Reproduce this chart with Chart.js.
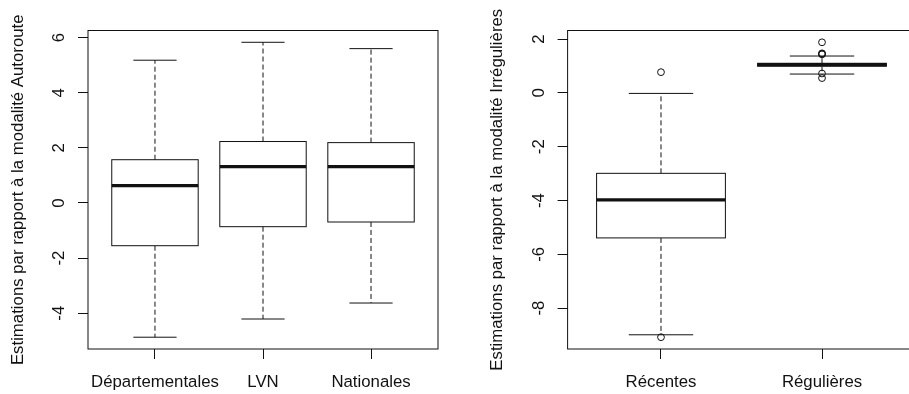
<!DOCTYPE html>
<html>
<head>
<meta charset="utf-8">
<script src="https://cdn.jsdelivr.net/npm/chart.js@4"></script>
<style>
  html, body { margin: 0; padding: 0; background: #fff; overflow: hidden; width: 909px; height: 394px; }
  canvas { position: absolute; top: 0; }
  #graficoAutoroute { left: 0; }
  #graficoIrregulieres { left: 455px; }
</style>
</head>
<body>
<canvas id="graficoAutoroute" width="455" height="394"></canvas>
<canvas id="graficoIrregulieres" width="470" height="394"></canvas>
<script>
// Panel izquierdo: estimaciones respecto a la modalidad Autoroute
const categoriasAutoroute = ['Départementales', 'LVN', 'Nationales'];
const bigoteInfAutoroute = [-4.87, -4.21, -3.63];
const q1Autoroute = [-1.55, -0.86, -0.69];
const medianaAutoroute = [0.63, 1.32, 1.32];
const q3Autoroute = [1.57, 2.23, 2.19];
const bigoteSupAutoroute = [5.18, 5.83, 5.60];
const atipicosAutoroute = [[], [], []];
const ticksAutoroute = [-4, -2, 0, 2, 4, 6];

// Panel derecho: estimaciones respecto a la modalidad Irrégulières
const categoriasIrregulieres = ['Récentes', 'Régulières'];
const bigoteInfIrregulieres = [-8.99, 0.70];
const q1Irregulieres = [-5.39, 0.99];
const medianaIrregulieres = [-3.98, 1.05];
const q3Irregulieres = [-2.99, 1.10];
const bigoteSupIrregulieres = [-0.02, 1.37];
const atipicosIrregulieres = [[0.77, -9.08], [1.88, 1.47, 1.45, 1.43, 0.72, 0.55]];
const ticksIrregulieres = [-8, -6, -4, -2, 0, 2];

const fuente = { family: '"Liberation Sans", Arial, sans-serif', size: 16.8 };
const colorTinta = '#111';

function crearBoxplot(canvas, categorias, bigoteInf, q1, mediana, q3, bigoteSup, atipicos, ticksY, tituloY, medidas) {

  // rango como en R: datos extendidos un 4%
  const todos = bigoteInf.concat(bigoteSup, atipicos.flat());
  const minY = Math.min(...todos), maxY = Math.max(...todos);
  const extra = (maxY - minY) * 0.04;
  const n = categorias.length;
  const extraX = n * 0.04;

  const puntosAtipicos = atipicos.flatMap((vals, i) => vals.map(v => ({ x: i + 1, y: v })));

  const pluginCajas = {
    id: 'cajasBoxplot',
    beforeDatasetsDraw: (chart) => {
      const { ctx, scales: { x, y } } = chart;
      ctx.save();
      ctx.strokeStyle = colorTinta;
      for (let i = 0; i < n; i++) {
        const xc = x.getPixelForValue(i + 1);
        const xl = x.getPixelForValue(i + 1 - 0.4);
        const xr = x.getPixelForValue(i + 1 + 0.4);
        const cl = x.getPixelForValue(i + 1 - 0.2);
        const cr = x.getPixelForValue(i + 1 + 0.2);
        // bigotes punteados
        ctx.lineWidth = 1;
        ctx.setLineDash([5, 3]);
        ctx.beginPath();
        ctx.moveTo(xc, y.getPixelForValue(q3[i]));
        ctx.lineTo(xc, y.getPixelForValue(bigoteSup[i]));
        ctx.moveTo(xc, y.getPixelForValue(q1[i]));
        ctx.lineTo(xc, y.getPixelForValue(bigoteInf[i]));
        ctx.stroke();
        ctx.setLineDash([]);
        // topes de los bigotes
        ctx.beginPath();
        ctx.moveTo(cl, y.getPixelForValue(bigoteSup[i]));
        ctx.lineTo(cr, y.getPixelForValue(bigoteSup[i]));
        ctx.moveTo(cl, y.getPixelForValue(bigoteInf[i]));
        ctx.lineTo(cr, y.getPixelForValue(bigoteInf[i]));
        ctx.stroke();
        // caja
        const yt = y.getPixelForValue(q3[i]);
        const yb = y.getPixelForValue(q1[i]);
        ctx.fillStyle = '#fff';
        ctx.fillRect(xl, yt, xr - xl, yb - yt);
        ctx.strokeRect(xl, yt, xr - xl, yb - yt);
        // mediana gruesa
        ctx.lineWidth = 3.2;
        ctx.beginPath();
        ctx.moveTo(xl, y.getPixelForValue(mediana[i]));
        ctx.lineTo(xr, y.getPixelForValue(mediana[i]));
        ctx.stroke();
      }
      ctx.restore();
    },
    afterDraw: (chart) => {
      const { ctx, chartArea: { left, top, right, bottom } } = chart;
      ctx.save();
      ctx.strokeStyle = colorTinta;
      ctx.lineWidth = 1;
      ctx.strokeRect(left, top, right - left, bottom - top); // marco del gráfico
      ctx.restore();
    }
  };

  new Chart(canvas, {
    type: 'scatter',
    data: {
      datasets: [{
        data: puntosAtipicos,
        pointRadius: 3.4,
        pointHoverRadius: 3.4,
        borderWidth: 1,
        borderColor: colorTinta,
        backgroundColor: 'rgba(0,0,0,0)'
      }]
    },
    options: {
      responsive: false,
      animation: false,
      layout: { padding: { top: 30.5, right: medidas.derecha, bottom: 0, left: 0 } },
      plugins: { legend: { display: false }, tooltip: { enabled: false } },
      scales: {
        x: {
          type: 'linear',
          min: 0.5 - extraX,
          max: n + 0.5 + extraX,
          border: { display: false },
          grid: { drawOnChartArea: false, tickLength: 10, color: colorTinta },
          ticks: {
            font: fuente, color: colorTinta, padding: 13.4, autoSkip: false,
            maxRotation: 0, minRotation: 0,
            callback: (v) => categorias[v - 1]
          },
          afterBuildTicks: (s) => { s.ticks = categorias.map((c, i) => ({ value: i + 1 })); },
          afterFit: (s) => { s.height = 45; }
        },
        y: {
          min: minY - extra,
          max: maxY + extra,
          border: { display: false },
          grid: { drawOnChartArea: false, tickLength: 10, color: colorTinta },
          ticks: {
            font: fuente, color: colorTinta, padding: 11, autoSkip: false,
            minRotation: 90, maxRotation: 90, crossAlign: 'center',
            callback: (v) => String(v)
          },
          afterBuildTicks: (s) => { s.ticks = ticksY.map(v => ({ value: v })); },
          afterFit: (s) => { s.width = medidas.izquierda; },
          title: {
            display: true, text: tituloY, font: fuente, color: colorTinta,
            padding: { top: medidas.titulo, bottom: 0 }
          }
        }
      }
    },
    plugins: [pluginCajas]
  });
}

crearBoxplot(document.getElementById('graficoAutoroute'), categoriasAutoroute,
  bigoteInfAutoroute, q1Autoroute, medianaAutoroute, q3Autoroute, bigoteSupAutoroute,
  atipicosAutoroute, ticksAutoroute, 'Estimations par rapport à la modalité Autoroute',
  { izquierda: 88, derecha: 17, titulo: 8 });

crearBoxplot(document.getElementById('graficoIrregulieres'), categoriasIrregulieres,
  bigoteInfIrregulieres, q1Irregulieres, medianaIrregulieres, q3Irregulieres, bigoteSupIrregulieres,
  atipicosIrregulieres, ticksIrregulieres, 'Estimations par rapport à la modalité Irrégulières',
  { izquierda: 112.6, derecha: 9.6, titulo: 31.8 });
</script>
</body>
</html>
